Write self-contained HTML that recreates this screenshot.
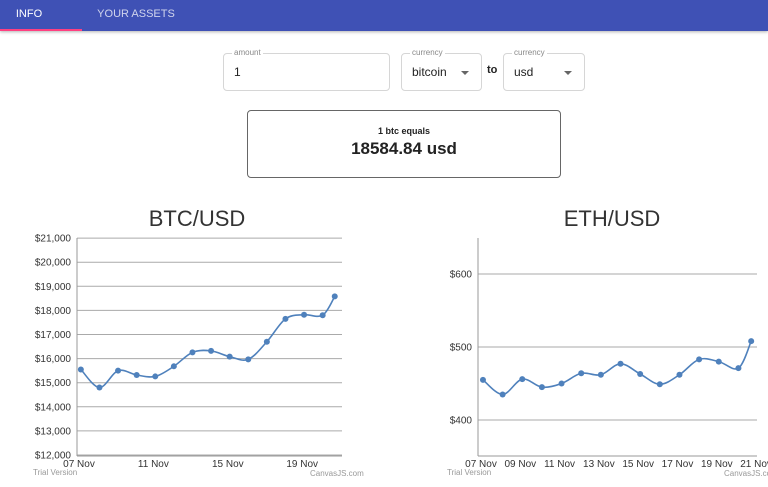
<!DOCTYPE html>
<html><head><meta charset="utf-8">
<style>
*{box-sizing:border-box;margin:0;padding:0}
body{width:768px;height:487px;overflow:hidden;background:#fff;font-family:"Liberation Sans",sans-serif;position:relative;color:#222}
.abs{position:absolute}
.bar{left:0;top:0;width:768px;height:31px;background:#3f51b5;box-shadow:0 1px 3px rgba(0,0,0,.3)}
.tab{top:0;height:31px;line-height:29px;font-size:11px;color:#fff;text-align:center}
.field{border:1px solid #d6d6d6;border-radius:4px;height:38px}
.lab{top:-6px;left:8px;background:#fff;padding:0 2px;font-size:8px;color:#888;line-height:10px}
.val{left:10px;top:11px;font-size:12px;color:#222}
.arr{right:12px;top:17px;width:0;height:0;border-left:4px solid transparent;border-right:4px solid transparent;border-top:4px solid #666}
</style></head><body>
<div class="abs bar"></div>
<div class="abs tab" style="left:0;width:58px;">INFO</div>
<div class="abs" style="left:0;top:29px;width:82px;height:2px;background:#ff4081"></div>
<div class="abs tab" style="left:96px;width:80px;opacity:.75">YOUR ASSETS</div>

<div class="abs field" style="left:223px;top:53px;width:167px"><span class="abs lab">amount</span><span class="abs val">1</span></div>
<div class="abs field" style="left:401px;top:53px;width:81px"><span class="abs lab">currency</span><span class="abs val">bitcoin</span><span class="abs arr"></span></div>
<div class="abs" style="left:487px;top:64px;font-size:11px;font-weight:bold">to</div>
<div class="abs field" style="left:503px;top:53px;width:82px"><span class="abs lab">currency</span><span class="abs val">usd</span><span class="abs arr"></span></div>

<div class="abs" style="left:247px;top:110px;width:314px;height:68px;border:1px solid #666;border-radius:4px;text-align:center">
<div style="font-size:9px;font-weight:bold;margin-top:15px">1 btc equals</div>
<div style="font-size:17px;font-weight:bold;margin-top:3px">18584.84 usd</div>
</div>

<svg class="abs" style="left:0;top:0" width="768" height="487" id="charts"></svg>
<script>
const btcDays=[0.1,1.1,2.1,3.1,4.1,5.1,6.1,7.1,8.1,9.1,10.1,11.1,12.1,13.1,13.75];
const btcValues=[15550,14800,15500,15320,15260,15680,16260,16320,16080,15970,16700,17650,17820,17800,18580];
const btcTicks=[12000,13000,14000,15000,16000,17000,18000,19000,20000,21000];
const btcXLabels=["07 Nov","11 Nov","15 Nov","19 Nov"];
const btcXLabelDays=[0,4,8,12];
const ethDays=[0.1,1.1,2.1,3.1,4.1,5.1,6.1,7.1,8.1,9.1,10.1,11.1,12.1,13.1,13.75];
const ethValues=[455,435,456,445,450,464,462,477,463,449,462,483,480,471,508];
const ethTicks=[400,500,600];
const ethXLabels=["07 Nov","09 Nov","11 Nov","13 Nov","15 Nov","17 Nov","19 Nov","21 Nov"];
const ethXLabelDays=[0,2,4,6,8,10,12,14];
const NS="http://www.w3.org/2000/svg";
const svg=document.getElementById('charts');
function mk(t,a){const e=document.createElementNS(NS,t);for(const k in a)e.setAttribute(k,a[k]);svg.appendChild(e);return e;}
function chart(o){
 const sx=d=>o.x0+d*o.dx, sy=v=>o.yb-(v-o.ymin)*o.ky;
 const t=mk('text',{x:o.tx,y:226,'font-size':22,'text-anchor':'middle',fill:'#333','font-family':'Liberation Sans, sans-serif'});t.textContent=o.title;
 
 o.ticks.forEach(v=>{const g=mk('line',{x1:o.left,x2:o.right,y1:sy(v),y2:sy(v),stroke:'#aaa','stroke-width':1});
  
  const l=mk('text',{x:o.left-6,y:sy(v)+3.5,'font-size':10,'text-anchor':'end',fill:'#333'});l.textContent=o.fmt(v);
  });
 const ax=mk('line',{x1:o.left,x2:o.left,y1:o.top,y2:o.bottom,stroke:'#999'});
 const bx=mk('line',{x1:o.left,x2:o.right,y1:o.bottom,y2:o.bottom,stroke:'#999'});
 o.xl.forEach((s,i)=>{const l=mk('text',{x:sx(o.xd[i]),y:o.bottom+11,'font-size':10,'text-anchor':'middle',fill:'#333'});l.textContent=s;
  });
 const p=o.days.map((d,i)=>[sx(d),sy(o.vals[i])]);
 let d='M'+p[0][0]+','+p[0][1];
 for(let i=0;i<p.length-1;i++){const a=p[i-1]||p[i],b=p[i],c=p[i+1],e=p[i+2]||c;
  d+=` C${b[0]+(c[0]-a[0])/6},${b[1]+(c[1]-a[1])/6} ${c[0]-(e[0]-b[0])/6},${c[1]-(e[1]-b[1])/6} ${c[0]},${c[1]}`;}
 const ln=mk('path',{d:d,fill:'none',stroke:'#4f81bc','stroke-width':1.6});
 p.forEach(q=>{const c=mk('circle',{cx:q[0],cy:q[1],r:3,fill:'#4f81bc'});});
 const tv=mk('text',{x:o.trial,y:475,'font-size':8,fill:'#999'});tv.textContent='Trial Version';
 const cj=mk('text',{x:o.credit,y:476,'font-size':8,fill:'#999'});cj.textContent='CanvasJS.com';
}
chart({key:'btc',title:'BTC/USD',tx:197,left:77,right:342,top:238,bottom:456,x0:79,dx:18.6,yb:455,ymin:12000,ky:24.1/1000,
 ticks:btcTicks,fmt:v=>'$'+v.toLocaleString('en-US'),xl:btcXLabels,xd:btcXLabelDays,days:btcDays,vals:btcValues,credit:310,trial:33});
chart({key:'eth',title:'ETH/USD',tx:612,left:478,right:757,top:238,bottom:456,x0:481,dx:19.65,yb:420,ymin:400,ky:0.73,
 ticks:ethTicks,fmt:v=>'$'+v,xl:ethXLabels,xd:ethXLabelDays,days:ethDays,vals:ethValues,credit:724,trial:447});
</script>
</body></html>
